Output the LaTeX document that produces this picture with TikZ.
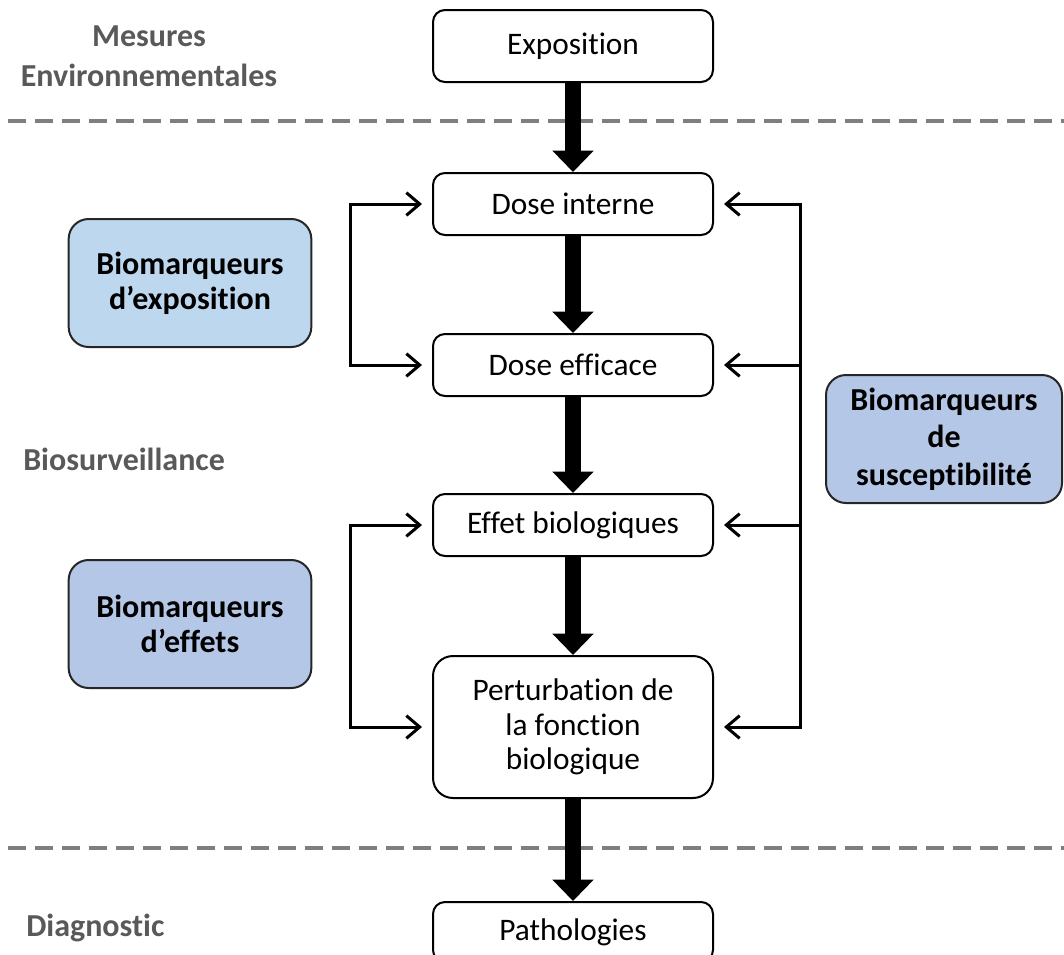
\documentclass[tikz,border=0pt]{standalone}
\usepackage{fontspec}
\setmainfont{Carlito}[Ligatures=CommonOff]
\usetikzlibrary{arrows.meta,positioning}
\definecolor{expblue}{HTML}{BDD7EE}
\definecolor{effblue}{HTML}{B4C7E7}
\definecolor{txtgray}{HTML}{595959}
\definecolor{sepgray}{HTML}{7F7F7F}

\begin{document}
\begin{tikzpicture}[
  x=0.75pt, y=-0.75pt,
  font=\fontsize{23.5}{26}\selectfont,
  >={Straight Barb[length=10pt, width=17pt]},
  node distance = 72.75pt,
  box/.style  = {draw, line width=1.5pt, rounded corners=9pt, align=center,
                 minimum width=210pt, minimum height=46.5pt, inner sep=0pt},
  bio/.style  = {draw=black!85, line width=1.5pt, rounded corners=15pt,
                 align=center, minimum width=182pt, minimum height=96pt,
                 font=\fontsize{24}{26}\selectfont\bfseries},
  zone/.style = {text=txtgray, align=center, inner sep=0pt,
                 font=\fontsize{24}{30}\selectfont\bfseries},
  flow/.style = {line width=12pt, -{Triangle[length=16pt, width=30pt]}},
  link/.style = {line width=2.25pt, shorten >=7.5pt, ->},
  sep/.style  = {sepgray, line width=3pt, dash pattern=on 13.5pt off 6.75pt}
]
\useasboundingbox (0,0) rectangle (1064,954);

% main chain
\node[box, minimum height=54pt] (exp) at (573,46) {Exposition};
\node[box, below=66.75pt of exp] (dint)  {Dose interne};
\node[box, below=of dint]        (deff)  {Dose efficace};
\node[box, below=72pt of deff]   (effet) {Effet biologiques};
\node[box, below=73.5pt of effet, minimum height=106.5pt, rounded corners=15pt]
  (pert) {Perturbation de\\la fonction\\biologique};
\node[box, below=76.5pt of pert, minimum height=45pt] (path) {Pathologies};

% biomarker boxes
\node[bio, fill=expblue] (bexp) at (190,283) {Biomarqueurs\\d’exposition};
\node[bio, fill=effblue] (beff) at (190,624) {Biomarqueurs\\d’effets};
\node[bio, fill=effblue, minimum width=177pt,
      font=\fontsize{24}{28}\selectfont\bfseries]
  (bsus) at (944,439) {Biomarqueurs\\de\\susceptibilité};

% zones
\node[zone] (mes) at (149,56) {Mesures\\Environnementales};
\node[zone, anchor=west] (bios) at (23,459) {Biosurveillance};
\node[zone, anchor=west] (diag) at (26,928) {Diagnostic};

\draw[sep] (8,121) -- (1064,121);
\draw[sep] (8,848) -- (1064,848);

\foreach \a/\b in {exp/dint, dint/deff, deff/effet, effet/pert, pert/path}
  \draw[flow] (\a) -- (\b);

% brackets
\draw[link, <->, shorten <=7.5pt] (dint.west) -- ++(-82,0) |- (deff.west);
\draw[link, <->, shorten <=7.5pt] (effet.west) -- ++(-82,0) |- (pert.west);

\coordinate[right=64.5pt of dint.east] (rail);
\draw[link, <->, shorten <=7.5pt] (pert.east) -| (rail) -- (dint.east);
\foreach \n in {deff, effet}
  \draw[link] (rail |- \n.east) -- (\n.east);

\end{tikzpicture}
\end{document}
